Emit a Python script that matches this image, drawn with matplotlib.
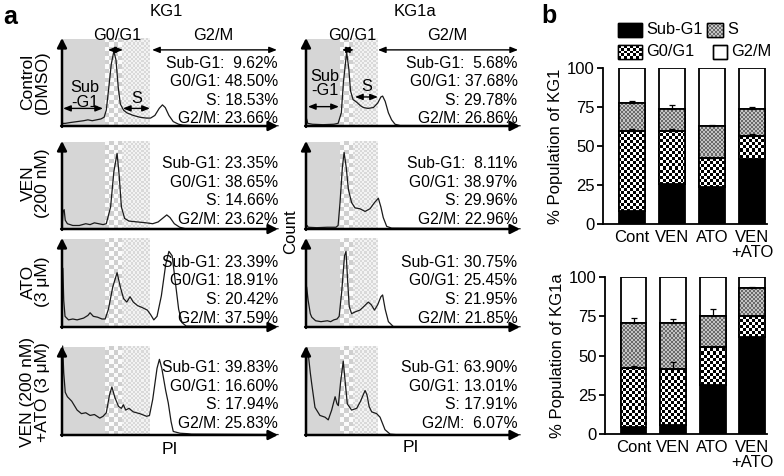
import numpy as np
import matplotlib
matplotlib.use("Agg")
import matplotlib.pyplot as plt
from matplotlib.colors import ListedColormap
from matplotlib.patches import Rectangle

plt.rcParams['font.family'] = ['Liberation Sans', 'DejaVu Sans']

# ------------------------------------------------------------------
# Data: PI histograms (PI channel, relative count in % of axis height)
# ------------------------------------------------------------------
kg1_ctrl_pi = [0, 15, 40, 70, 100, 120, 140, 160, 180, 195, 205, 215, 228, 240, 250, 260, 270, 285, 300, 330,
               360, 390, 410, 430, 450, 465, 478, 495, 515, 540, 560, 600, 1000]
kg1_ctrl_ct = [3, 3, 4, 5, 6, 7, 6, 7, 8, 10, 18, 40, 70, 85, 75, 45, 25, 18, 15, 12,
               10, 9, 9, 12, 20, 24, 21, 12, 5, 2, 1, 0.5, 0.3]

kg1_ven_pi = [0, 5, 10, 15, 25, 50, 80, 110, 130, 150, 170, 190, 205, 225, 240, 255, 265, 275, 290, 310,
              350, 390, 420, 445, 465, 485, 500, 520, 545, 570, 1000]
kg1_ven_ct = [2, 20, 22, 10, 6, 4, 4, 6, 5, 7, 6, 5, 6, 25, 65, 86, 60, 25, 12, 9,
              8, 7, 6, 8, 12, 16, 13, 6, 2, 0.5, 0.3]

kg1_ato_pi = [0, 4, 8, 14, 30, 50, 70, 100, 120, 130, 145, 165, 185, 200, 215, 235, 255, 270, 285, 300,
              315, 330, 350, 370, 395, 410, 425, 440, 460, 480, 495, 510, 525, 540, 555, 575, 1000]
kg1_ato_ct = [3, 66, 30, 12, 8, 9, 8, 10, 13, 16, 12, 11, 9, 9, 20, 45, 61, 45, 32, 28,
              34, 28, 24, 22, 19, 14, 8, 12, 35, 70, 85, 80, 50, 20, 5, 1, 0.5]

kg1_combo_pi = [0, 3, 8, 15, 25, 45, 70, 90, 110, 130, 150, 175, 190, 205, 220, 231, 245, 262, 275, 284,
                295, 310, 330, 360, 392, 405, 420, 440, 451, 462, 480, 492, 505, 515, 546, 580, 600, 1000]
kg1_combo_ct = [3, 100, 70, 48, 43, 38, 28, 24, 25, 22, 23, 19, 21, 25, 45, 54, 42, 32, 30, 34,
                28, 30, 26, 24, 21, 22, 40, 75, 85, 75, 50, 36, 15, 4, 2, 1.5, 1, 0.5]

kg1a_ctrl_pi = [0, 3, 8, 30, 80, 130, 150, 165, 175, 190, 200, 208, 220, 237, 255, 268, 290, 315, 335, 350,
                358, 370, 385, 400, 416, 440, 1000]
kg1a_ctrl_ct = [3, 8, 3, 2, 1.5, 2, 3, 15, 50, 84, 65, 40, 30, 27, 23, 21, 20, 21, 26, 33,
                34, 28, 15, 7, 2, 0.5, 0.3]

kg1a_ven_pi = [0, 5, 10, 50, 100, 140, 150, 159, 170, 178, 188, 198, 213, 229, 252, 276, 299, 320, 338, 350,
               361, 377, 400, 1000]
kg1a_ven_ct = [2, 4, 2, 1.5, 2, 2, 4, 30, 70, 87, 70, 45, 30, 24, 23, 20, 23, 30, 35, 25,
               13, 3, 1, 0.3]

kg1a_ato_pi = [0, 3, 10, 20, 27, 45, 70, 100, 115, 130, 145, 155, 167, 180, 187, 195, 202, 213, 230, 252,
               270, 291, 305, 320, 335, 350, 358, 370, 385, 408, 1000]
kg1a_ato_ct = [3, 45, 30, 15, 11, 7, 6, 7, 6, 8, 9, 12, 40, 80, 85, 50, 23, 15, 17, 19,
               23, 28, 25, 19, 25, 34, 36, 20, 6, 0.5, 0.3]

kg1a_combo_pi = [0, 4, 11, 20, 27, 42, 65, 89, 104, 120, 136, 145, 151, 162, 174, 183, 193, 213, 237, 255,
                 276, 285, 295, 307, 330, 346, 369, 393, 420, 1000]
kg1a_combo_ct = [3, 98, 90, 70, 57, 31, 22, 20, 17, 28, 43, 35, 33, 60, 83, 60, 35, 28, 30, 38,
                 50, 45, 32, 26, 24, 20, 6, 1, 0.5, 0.3]

# gates (PI channel): end of Sub-G1, end of G0/G1, end of S
kg1_gates = [200, 280, 408]
kg1a_gates = [160, 220, 336]

phase_names = ['Sub-G1', 'G0/G1', 'S', 'G2/M']
treatments = ['Control\n(DMSO)', 'VEN\n(200 nM)', 'ATO\n(3 μM)', 'VEN (200 nM)\n+ATO (3 μM)']

kg1_stats = [[9.62, 48.50, 18.53, 23.66],
             [23.35, 38.65, 14.66, 23.62],
             [23.39, 18.91, 20.42, 37.59],
             [39.83, 16.60, 17.94, 25.83]]
kg1a_stats = [[5.68, 37.68, 29.78, 26.86],
              [8.11, 38.97, 29.96, 22.96],
              [30.75, 25.45, 21.95, 21.85],
              [63.90, 13.01, 17.91, 6.07]]

# ------------------------------------------------------------------
# Data: stacked bars (panel b)
# ------------------------------------------------------------------
groups = ['Cont', 'VEN', 'ATO', 'VEN\n+ATO']
kg1_sub = [8.5, 25.5, 24.0, 41.5]
kg1_g01 = [51.0, 34.0, 18.0, 15.0]
kg1_s = [18.0, 14.5, 21.0, 17.5]
kg1_g2m = [22.5, 26.0, 37.0, 26.0]
kg1_err_s = [1.2, 2.2, 0.3, 1.0]
kg1_err_g01 = [1.5, 1.5, 0.6, 1.0]

kg1a_sub = [4.3, 5.7, 31.0, 61.7]
kg1a_g01 = [38.0, 35.6, 24.3, 13.2]
kg1a_s = [28.7, 29.3, 20.0, 18.0]
kg1a_g2m = [29.0, 29.4, 24.7, 7.1]
kg1a_err_s = [2.8, 2.6, 4.3, 0.5]
kg1a_err_g01 = [1.0, 4.5, 1.0, 0.5]

# ------------------------------------------------------------------
W, H = 784, 476
fig = plt.figure(figsize=(W / 100, H / 100), dpi=100)


def px_axes(x0, y0, x1, y1):
    """Axes from pixel box (top-left origin)."""
    return fig.add_axes([x0 / W, 1 - y1 / H, (x1 - x0) / W, (y1 - y0) / H])


def checker(ax, x0, x1, y0, y1, cell, c1, c2, clip=None, zorder=0):
    p0 = ax.transData.transform((x0, y0))
    p1 = ax.transData.transform((x1, y1))
    nx = max(1, int(round(abs(p1[0] - p0[0]) / cell)))
    ny = max(1, int(round(abs(p1[1] - p0[1]) / cell)))
    grid = np.add.outer(np.arange(ny), np.arange(nx)) % 2
    im = ax.imshow(grid, extent=(x0, x1, y0, y1), cmap=ListedColormap([c1, c2]),
                   vmin=0, vmax=1, interpolation='nearest', aspect='auto',
                   zorder=zorder, origin='lower')
    if clip is not None:
        im.set_clip_path(clip)
    return im


def double_arrow(ax, xa, xb, y):
    ax.annotate('', xy=(xb, y), xytext=(xa, y), xycoords='data',
                arrowprops=dict(arrowstyle='<|-|>,head_length=0.45,head_width=0.18',
                                lw=1.0, color='k', shrinkA=0, shrinkB=0),
                annotation_clip=False, zorder=6)


col_x = [(62, 278), (306, 520)]
row_y = [(38, 126), (141, 229), (238, 327), (346, 435)]
hist_data = [
    [(kg1_ctrl_pi, kg1_ctrl_ct), (kg1_ven_pi, kg1_ven_ct), (kg1_ato_pi, kg1_ato_ct), (kg1_combo_pi, kg1_combo_ct)],
    [(kg1a_ctrl_pi, kg1a_ctrl_ct), (kg1a_ven_pi, kg1a_ven_ct), (kg1a_ato_pi, kg1a_ato_ct), (kg1a_combo_pi, kg1a_combo_ct)],
]
gates = [kg1_gates, kg1a_gates]
stats = [kg1_stats, kg1a_stats]
stat_y = [[71, 50, 29, 9], [74, 53, 32, 11], [73, 52, 31, 10], [76, 55, 34, 13]]
stat_x = [1000, 988]
FS_STAT = 11.3

hist_axes = {}
for c in range(2):
    for r in range(4):
        x0, x1 = col_x[c]
        y0, y1 = row_y[r]
        ax = px_axes(x0, y0, x1, y1)
        ax.set_xlim(0, 1000)
        ax.set_ylim(0, 100)
        g = gates[c]
        ax.axvspan(0, g[0], ymin=0, ymax=0.99, color='#d6d6d6', lw=0, zorder=0)
        checker(ax, g[0], g[1], 0, 99, 4.3, '#cfcfcf', '#fbfbfb', zorder=0)
        checker(ax, g[1], g[2], 0, 99, 2.2, '#d9d9d9', '#f3f3f3', zorder=0)
        ax.set_xlim(0, 1000)
        ax.set_ylim(0, 100)
        pi, ct = hist_data[c][r]
        ax.plot(pi, ct, color='#1a1a1a', lw=0.9, zorder=3, clip_on=False)
        for s in ax.spines.values():
            s.set_visible(False)
        ax.set_xticks([])
        ax.set_yticks([])
        ax.patch.set_alpha(0)
        arr = dict(arrowstyle='-|>,head_length=0.55,head_width=0.28', lw=1.8, color='k',
                   shrinkA=0, shrinkB=0)
        ax.annotate('', xy=(1.0, 0), xytext=(-0.004, 0), xycoords='axes fraction',
                    arrowprops=arr, annotation_clip=False, zorder=7)
        ax.annotate('', xy=(0, 1.0), xytext=(0, -0.01), xycoords='axes fraction',
                    arrowprops=arr, annotation_clip=False, zorder=7)
        vals = stats[c][r]
        for k in range(4):
            ax.text(stat_x[c], stat_y[r][k], f'{phase_names[k]}: {vals[k]:5.2f}%',
                    ha='right', va='center', fontsize=FS_STAT, zorder=5)
        hist_axes[(c, r)] = ax

FS_G = 11.8
# gate annotations in first row
a = hist_axes[(0, 0)]
a.text(255, 103, 'G0/G1', ha='center', va='center', fontsize=FS_G)
a.text(699, 103, 'G2/M', ha='center', va='center', fontsize=FS_G)
double_arrow(a, 213, 282, 86.5)
double_arrow(a, 417, 995, 86.5)
a.text(106, 35, 'Sub\n-G1', ha='center', va='center', fontsize=FS_G, linespacing=0.95)
double_arrow(a, 5, 190, 20)
a.text(347, 31, 'S', ha='center', va='center', fontsize=FS_G)
double_arrow(a, 282, 407, 20)

a = hist_axes[(1, 0)]
a.text(215, 103, 'G0/G1', ha='center', va='center', fontsize=FS_G)
a.text(659, 103, 'G2/M', ha='center', va='center', fontsize=FS_G)
double_arrow(a, 168, 224, 86.5)
double_arrow(a, 336, 991, 86.5)
a.text(89, 48, 'Sub\n-G1', ha='center', va='center', fontsize=FS_G, linespacing=0.95)
double_arrow(a, 9, 154, 22)
a.text(285, 45, 'S', ha='center', va='center', fontsize=FS_G)
double_arrow(a, 229, 336, 33)

# ------------------------------------------------------------------
# Panel b: stacked bars
# ------------------------------------------------------------------
def stacked(ax, sub, g01, s, g2m, err_s, err_g01, ylabel):
    x = np.arange(len(groups))
    wbar = 0.65
    b0 = np.zeros(len(groups))
    ax.bar(x, sub, wbar, bottom=b0, color='black', edgecolor='black', lw=1.3, zorder=2)
    b1 = b0 + np.array(sub)
    bars_g = ax.bar(x, g01, wbar, bottom=b1, color='white', edgecolor='black', lw=1.3, zorder=2)
    b2 = b1 + np.array(g01)
    bars_s = ax.bar(x, s, wbar, bottom=b2, color='#8c8c8c', edgecolor='black', lw=1.3, zorder=2)
    b3 = b2 + np.array(s)
    ax.bar(x, g2m, wbar, bottom=b3, color='white', edgecolor='black', lw=1.3, zorder=2)
    ax.set_xlim(-0.725, 3.375)
    ax.set_ylim(0, 100)
    for p in bars_g:
        checker(ax, -0.725, 3.375, 0, 100, 3.0, 'black', 'white', clip=p, zorder=2.5)
    for p in bars_s:
        checker(ax, -0.725, 3.375, 0, 100, 2.0, '#6a6a6a', '#c4c4c4', clip=p, zorder=2.5)
    # outlines over texture
    for bot, hgt in ((b1, g01), (b2, s)):
        ax.bar(x, hgt, wbar, bottom=bot, fill=False, edgecolor='black', lw=1.3, zorder=3)
    ax.set_xlim(-0.725, 3.375)
    ax.set_ylim(0, 100)
    ax.errorbar(x, b2, yerr=[np.zeros(len(groups)), err_g01], fmt='none', ecolor='black',
                elinewidth=0.9, capsize=2.5, capthick=0.9, zorder=4)
    ax.errorbar(x, b3, yerr=[np.zeros(len(groups)), err_s], fmt='none', ecolor='black',
                elinewidth=0.9, capsize=2.5, capthick=0.9, zorder=4)
    ax.set_yticks([0, 25, 50, 75, 100])
    ax.set_xticks(x)
    ax.set_xticklabels(groups, fontsize=12, linespacing=1.0)
    ax.tick_params(axis='y', labelsize=12, length=4, width=1.3, pad=2)
    ax.tick_params(axis='x', length=0, pad=4)
    for side in ('top', 'right'):
        ax.spines[side].set_visible(False)
    for side in ('left', 'bottom'):
        ax.spines[side].set_linewidth(1.3)
    ax.set_ylabel(ylabel, fontsize=12, labelpad=3)


axb1 = px_axes(603, 68, 767, 224)
stacked(axb1, kg1_sub, kg1_g01, kg1_s, kg1_g2m, kg1_err_s, kg1_err_g01, '% Population of KG1')
axb2 = px_axes(605, 277, 767, 434)
stacked(axb2, kg1a_sub, kg1a_g01, kg1a_s, kg1a_g2m, kg1a_err_s, kg1a_err_g01, '% Population of KG1a')

# ------------------------------------------------------------------
# Overlay (pixel coordinates) for labels and legend
# ------------------------------------------------------------------
ov = fig.add_axes([0, 0, 1, 1], zorder=10)
ov.set_xlim(0, W)
ov.set_ylim(H, 0)
ov.axis('off')
ov.patch.set_alpha(0)

ov.text(3, 17, 'a', fontsize=18, fontweight='bold', ha='left', va='center')
ov.text(541, 16, 'b', fontsize=18, fontweight='bold', ha='left', va='center')
ov.text(166, 11, 'KG1', fontsize=12, ha='center', va='center')
ov.text(415, 12, 'KG1a', fontsize=12, ha='center', va='center')
row_label_y = [82, 183, 282, 392]
for r in range(4):
    ov.text(35, row_label_y[r], treatments[r], rotation=90, ha='center', va='center',
            fontsize=12.5, linespacing=0.92, multialignment='center')
ov.text(291, 232, 'Count', rotation=90, ha='center', va='center', fontsize=12)
ov.text(170, 450, 'PI', ha='center', va='center', fontsize=12.5)
ov.text(411, 448, 'PI', ha='center', va='center', fontsize=12.5)

# legend
leg = [
    ('Sub-G1', 618, 642, 23, 37, 'solid'),
    ('S', 707, 723, 23, 37, 's'),
    ('G0/G1', 618, 642, 45, 59, 'g01'),
    ('G2/M', 713, 727, 45, 59, 'white'),
]
for name, lx0, lx1, ly0, ly1, kind in leg:
    face = 'black' if kind == 'solid' else 'white'
    rect = Rectangle((lx0, ly0), lx1 - lx0, ly1 - ly0, facecolor=face, edgecolor='black', lw=1.0, zorder=2)
    ov.add_patch(rect)
    if kind == 'g01':
        checker(ov, lx0, lx1, ly1, ly0, 3.0, 'black', 'white', clip=rect, zorder=2.5)
    elif kind == 's':
        checker(ov, lx0, lx1, ly1, ly0, 2.0, '#6a6a6a', '#c4c4c4', clip=rect, zorder=2.5)
    ov.add_patch(Rectangle((lx0, ly0), lx1 - lx0, ly1 - ly0, fill=False, edgecolor='black', lw=1.0, zorder=3))
    ov.text(lx1 + 4, (ly0 + ly1) / 2, name, ha='left', va='center', fontsize=11.8)
ov.set_xlim(0, W)
ov.set_ylim(H, 0)

fig.savefig('out.png', dpi=100)
